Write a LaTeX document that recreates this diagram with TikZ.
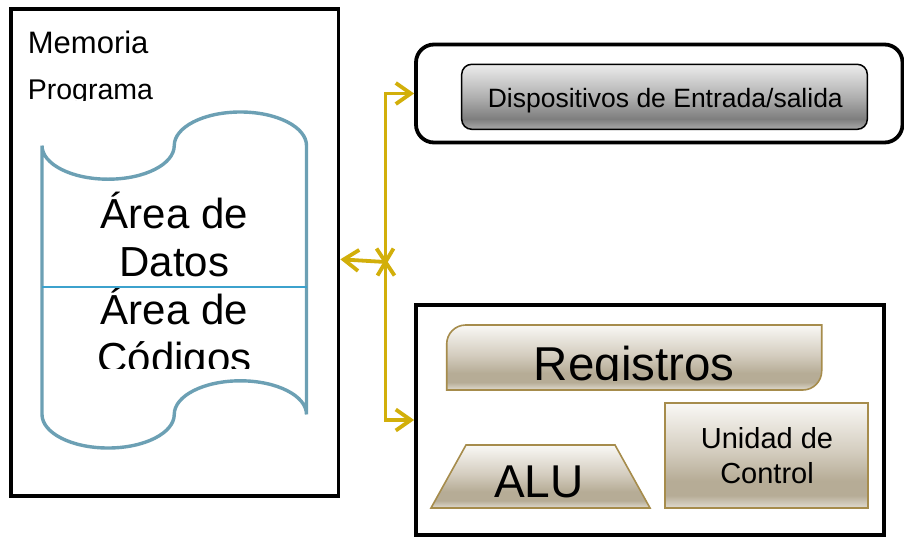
\documentclass[tikz,border=0pt]{standalone}
\usepackage{fontspec}
\setmainfont{Liberation Sans}
\usetikzlibrary{arrows.meta,calc}
\definecolor{busgold}{RGB}{210,175,10}
\definecolor{scrollblue}{RGB}{108,160,180}
\definecolor{divblue}{RGB}{60,162,205}
\definecolor{tanA}{RGB}{249,248,245}
\definecolor{tanM}{RGB}{212,205,191}
\definecolor{tanB}{RGB}{182,172,150}
\definecolor{tanC}{RGB}{224,219,208}
\definecolor{tanborder}{RGB}{166,140,76}
\definecolor{grayA}{RGB}{236,236,236}
\definecolor{grayM}{RGB}{176,176,176}
\definecolor{grayB}{RGB}{126,126,126}
\definecolor{grayC}{RGB}{170,170,170}
\pgfdeclareverticalshading{tanshade}{100bp}{color(0bp)=(tanC); color(25bp)=(tanC); color(31bp)=(tanB); color(38bp)=(tanB); color(52bp)=(tanM); color(75bp)=(tanA); color(100bp)=(tanA)}
\pgfdeclareverticalshading{grayshade}{100bp}{color(0bp)=(grayC); color(25bp)=(grayC); color(33bp)=(grayB); color(50bp)=(grayM); color(75bp)=(grayA); color(100bp)=(grayA)}
\begin{document}
\begin{tikzpicture}[x=1pt,y=-1pt,
  lbl/.style={inner sep=0pt, anchor=base},
  bus/.style={draw=busgold, line width=3.8pt},
  bustip/.style={-{Straight Barb[length=15pt,width=21pt]}},
  tanbox/.style={draw=tanborder, line width=1.6pt, shade, shading=tanshade}]
\useasboundingbox[fill=white] (0,0) rectangle (904,536);

% Memory block
\node[draw, line width=3.6pt, minimum width=327.7pt, minimum height=487pt, inner sep=0pt] (mem) at (174.7,252.3) {};
\node[lbl, anchor=base west, font=\fontsize{31}{31}\selectfont] (memtitle) at (27.7,53.3) {Memoria};
\begin{scope}
  \clip (20,60) rectangle (200,100);
  \node[lbl, anchor=base west, font=\fontsize{28.5}{28.5}\selectfont] (prog) at (27.7,99) {Programa};
\end{scope}

% Scroll (punched tape)
\draw[scrollblue, line width=3.4pt]
  (42,145.6) .. controls (42,164.2) and (71.6,179.2) .. (108.1,179.2)
  .. controls (144.6,179.2) and (174.25,164.2) .. (174.25,145.6)
  .. controls (174.25,127.0) and (203.8,112) .. (240.4,112)
  .. controls (276.9,112) and (306.5,127.0) .. (306.5,145.6)
  -- (306.5,414.4)
  .. controls (306.5,395.8) and (276.9,380.8) .. (240.4,380.8)
  .. controls (203.8,380.8) and (174.25,395.8) .. (174.25,414.4)
  .. controls (174.25,433.0) and (144.6,448) .. (108.1,448)
  .. controls (71.6,448) and (42,433.0) .. (42,414.4) -- cycle;

\begin{scope}
  \clip (44,180) rectangle (305,287);
  \node[lbl, font=\fontsize{42}{42}\selectfont] (datos1) at (174.5,228) {Área de};
  \node[lbl, font=\fontsize{42}{42}\selectfont] (datos2) at (174.5,276) {Datos};
\end{scope}
\begin{scope}
  \clip (44,288) rectangle (305,368);
  \node[lbl, font=\fontsize{42}{42}\selectfont] (cod1) at (174.5,324) {Área de};
  \node[lbl, font=\fontsize{42}{42}\selectfont] (cod2) at (174.5,372.5) {Códigos};
\end{scope}
\draw[divblue, line width=1.5pt] (42,287) -- (306.5,287);

% I/O block
\node[draw, line width=3.8pt, rounded corners=18pt, minimum width=486.5pt, minimum height=98pt, inner sep=0pt] (io) at (659.25,93.5) {};
\node[draw, line width=1.5pt, rounded corners=10pt, shade, shading=grayshade, minimum width=405.6pt, minimum height=65pt, inner sep=0pt] (iodev) at (664.5,96.8) {};
\node[lbl, font=\fontsize{26.5}{26.5}\selectfont] (iotext) at (665.3,107.3) {Dispositivos de Entrada/salida};

% CPU block
\node[draw, line width=3.8pt, minimum width=467.7pt, minimum height=230pt, inner sep=0pt] (cpu) at (649.85,420) {};

\path[tanbox] (446.7,390) -- (446.7,344) .. controls (446.7,333.5) and (455.2,325) .. (465.7,325)
  -- (821.7,325) -- (821.7,371) .. controls (821.7,381.5) and (813.2,390) .. (802.7,390) -- cycle;
\begin{scope}
  \clip (446.7,325) rectangle (821.7,380.5);
  \node[lbl, font=\fontsize{47.5}{47.5}\selectfont] (reg) at (634.2,380.5) {Registros};
\end{scope}

\path[tanbox] (431,508) -- (466,445) -- (615,445) -- (650,508) -- cycle;
\node[lbl, font=\fontsize{46}{46}\selectfont] (alu) at (539,497) {ALU};

\node[tanbox, minimum width=203pt, minimum height=105pt, inner sep=0pt] (ucbox) at (766.5,455.5) {};
\node[lbl, font=\fontsize{29}{29}\selectfont] (uc1) at (767,448.3) {Unidad de};
\node[lbl, font=\fontsize{29}{29}\selectfont] (uc2) at (767,483.3) {Control};

% Bus
\coordinate (jn) at (385.5,262);
\coordinate (memport) at ($(mem.east)+(0,7)$);
\draw[bus, bustip] (jn) |- (io.west);
\draw[bus, bustip] (jn) |- (cpu.west);
\draw[bus, bustip] (jn) -- (memport);
\draw[bus] (jn) ++(-9,-13.5) -- ++(18,27);
\draw[bus] (jn) ++(8,-13.5) -- ++(-16,27);
\end{tikzpicture}
\end{document}
